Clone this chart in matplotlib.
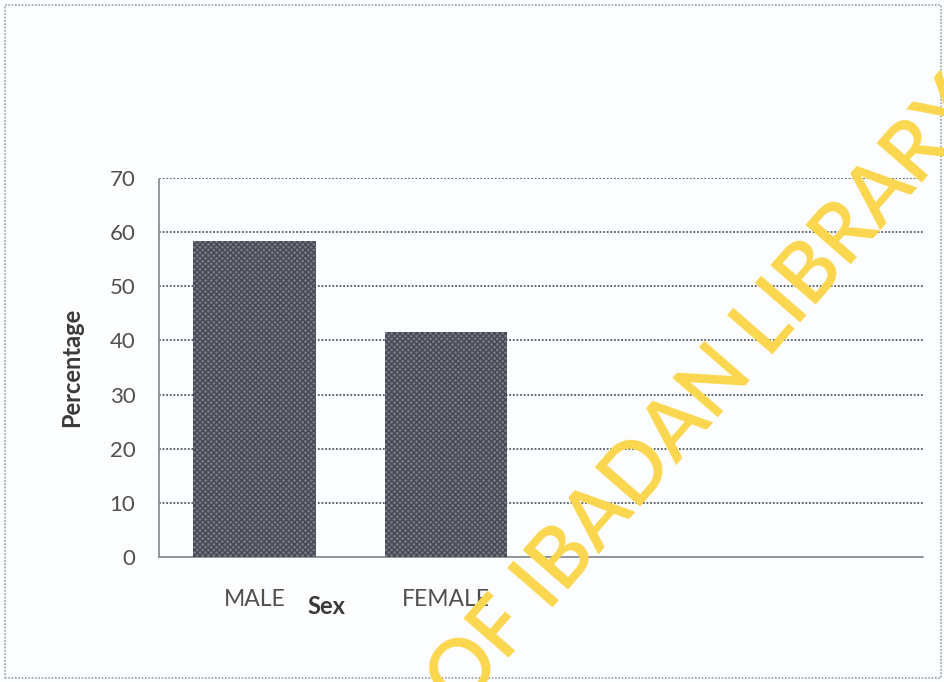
import matplotlib.pyplot as plt
from matplotlib.patches import Rectangle

categories = ["MALE", "FEMALE"]
percentages = [58.4, 41.6]
y_ticks = [0, 10, 20, 30, 40, 50, 60, 70]

plt.rcParams["font.family"] = ["Lato", "DejaVu Sans"]

fig = plt.figure(figsize=(9.44, 6.82), dpi=100, facecolor="#fcfdfe")
ax = fig.add_axes([0.1684, 0.1833, 0.8104, 0.5557])
ax.set_facecolor("#fcfdfe")

# excel layout had 4 category slots, only first two used
ax.set_xlim(-0.5, 3.5)
ax.set_ylim(0, 70)

ax.bar(
    range(len(categories)),
    percentages,
    width=0.64,
    color="#777a84",
    edgecolor="#464953",
    hatch="xxxxxx",
    linewidth=0,
    zorder=3,
)

ax.set_yticks(y_ticks)
ax.set_yticklabels([str(t) for t in y_ticks], fontsize=16, color="#505050")
ax.set_xticks(range(len(categories)))
ax.set_xticklabels(categories, fontsize=16.5, color="#505050")
ax.tick_params(axis="y", length=0, pad=17)
ax.tick_params(axis="x", length=0, pad=23)

ax.grid(axis="y", color="#555a63", linestyle=(0, (1, 1)), linewidth=1.3, zorder=1)
for side in ["top", "right"]:
    ax.spines[side].set_visible(False)
for side in ["left", "bottom"]:
    ax.spines[side].set_color("#8d9096")
    ax.spines[side].set_linestyle((0, (1, 1)))
    ax.spines[side].set_linewidth(1.3)

ax.set_ylabel("Percentage", fontsize=17, fontweight="bold", color="#3a3a3a")
ax.yaxis.set_label_coords(-0.099, 0.5)
fig.text(326 / 944, 1 - 607 / 682, "Sex", fontsize=17, fontweight="bold",
         color="#3a3a3a", ha="center", va="center")

# dotted chart-area border
fig.patches.append(Rectangle((5 / 944, 4 / 682), 936 / 944, 673 / 682, transform=fig.transFigure,
                             fill=False, edgecolor="#9aa0a8", linestyle=(0, (1, 1)), linewidth=1.2))

# scanned watermark
fig.text(545 / 944, 1 - 581 / 682, "UNIVERSITY OF IBADAN LIBRARY", fontsize=59,
         fontweight="semibold", color="#fbd64e", rotation=49, rotation_mode="anchor",
         ha="center", va="center", zorder=10)

plt.savefig("out.png", dpi=100, facecolor=fig.get_facecolor())
